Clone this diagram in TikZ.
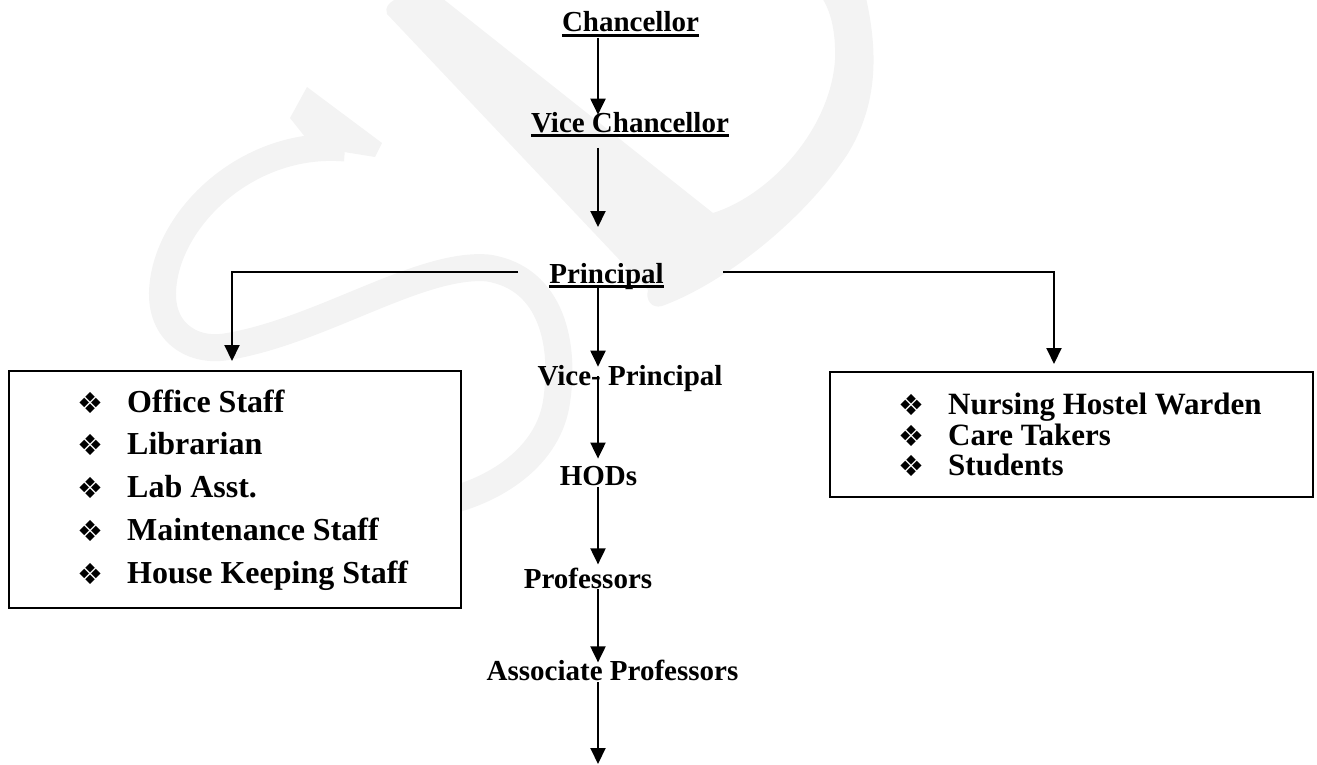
\documentclass[tikz,border=0pt]{standalone}
\usepackage{fontspec}
\setmainfont{Liberation Serif}
\newfontfamily\dingfont{DejaVu Sans}
\usetikzlibrary{arrows.meta,calc}
\definecolor{wm}{RGB}{243,243,243}
\begin{document}
\begin{tikzpicture}[x=1pt,y=-1pt,
  lbl/.style={font=\fontsize{29}{29}\selectfont\bfseries, inner sep=0pt, anchor=base},
  item/.style={font=\fontsize{32}{32}\selectfont\bfseries, inner sep=0pt, anchor=base west},
  ritem/.style={font=\fontsize{31}{31}\selectfont\bfseries, inner sep=0pt, anchor=base west},
  bul/.style={font=\dingfont\fontsize{29}{29}\selectfont, inner sep=0pt, anchor=center},
  arr/.style={line width=2pt, -{Triangle[width=15pt,length=16pt]}},
  ul/.style={line width=2.4pt},
  box/.style={draw, line width=2pt, fill=white, inner sep=0pt},
]
\useasboundingbox (0,0) rectangle (1317,765);
% faint watermark
\fill[wm] (307,87) -- (382,143) -- (375,157) -- (313,147) -- (290,118) -- cycle;
\draw[wm, line width=27pt] (345,148) .. controls (250,140) and (170,215) .. (163,285)
  .. controls (158,330) and (190,352) .. (225,347)
  .. controls (320,332) and (420,262) .. (488,268)
  .. controls (552,278) and (566,345) .. (556,405)
  .. controls (546,460) and (490,495) .. (430,505);
\fill[wm] (400,-2) -- (442,-2) -- (713,213)
  .. controls (770,195) and (830,130) .. (835,60)
  .. controls (836,30) and (830,10) .. (822,-2) -- (866,-2)
  .. controls (880,60) and (875,110) .. (847,155)
  .. controls (800,225) and (720,285) .. (662,306)
  .. controls (652,309) and (645,300) .. (648,290)
  -- (387,14) .. controls (384,8) and (390,0) .. (400,-2) -- cycle;

% central chain
\node[lbl] (chan) at (630.5,32) {Chancellor};
\node[lbl] (vc) at (630,132) {Vice Chancellor};
\node[lbl] (prin) at (606.5,283) {Principal};
\node[lbl] (vp) at (630,385) {Vice- Principal};
\node[lbl] (hods) at (598.5,485) {HODs};
\node[lbl] (prof) at (588,588) {Professors};
\node[lbl] (assoc) at (612.5,680) {Associate Professors};

\foreach \n in {chan,vc,prin}
  \draw[ul] ($(\n.base west)+(0,3.5)$) -- ($(\n.base east)+(0,3.5)$);

% boxes
\node[box, minimum width=452pt, minimum height=237pt] (lbox) at (235,489.5) {};
\node[box, minimum width=483pt, minimum height=125pt] (rbox) at (1071.5,434.5) {};

\foreach \b/\t [count=\i] in {412/Office Staff,454/Librarian,497/Lab Asst.,540/Maintenance Staff,583/House Keeping Staff}{
  \node[bul] (lb\i) at (90,\b-9) {❖};
  \node[item] (li\i) at (127,\b) {\t};
}
\foreach \b/\t [count=\i] in {414/Nursing Hostel Warden,445/Care Takers,475/Students}{
  \node[bul] (rb\i) at (911,\b-9) {❖};
  \node[ritem] (ri\i) at (948,\b) {\t};
}

% connectors
\coordinate (axis) at (598,0);
\coordinate (pin) at (598,227);
\coordinate (endpt) at (598,764);
\coordinate (lj) at (518,272);
\coordinate (rj) at (723,272);
\draw[arr] ($(chan.base -| axis)+(0,6)$) -- ($(vc.north -| axis)+(0,3)$);
\draw[arr] ($(vc.base -| axis)+(0,16)$) -- (pin);
\draw[arr] ($(prin.base -| axis)+(0,5)$) -- ($(vp.north -| axis)+(0,2)$);
\draw[arr] ($(vp.base -| axis)+(0,-9)$) -- ($(hods.north -| axis)+(0,-7)$);
\draw[arr] ($(hods.base -| axis)+(0,2)$) -- ($(prof.north -| axis)+(0,-3)$);
\draw[arr] ($(prof.base -| axis)+(0,1)$) -- ($(assoc.north -| axis)+(0,3)$);
\draw[arr] ($(assoc.base -| axis)+(0,2)$) -- (endpt);
\draw[arr] (lj) -| ($(lbox.north)+(-3,-9)$);
\draw[arr] (rj) -| ($(rbox.north)+(-17.5,-7)$);
\end{tikzpicture}
\end{document}
